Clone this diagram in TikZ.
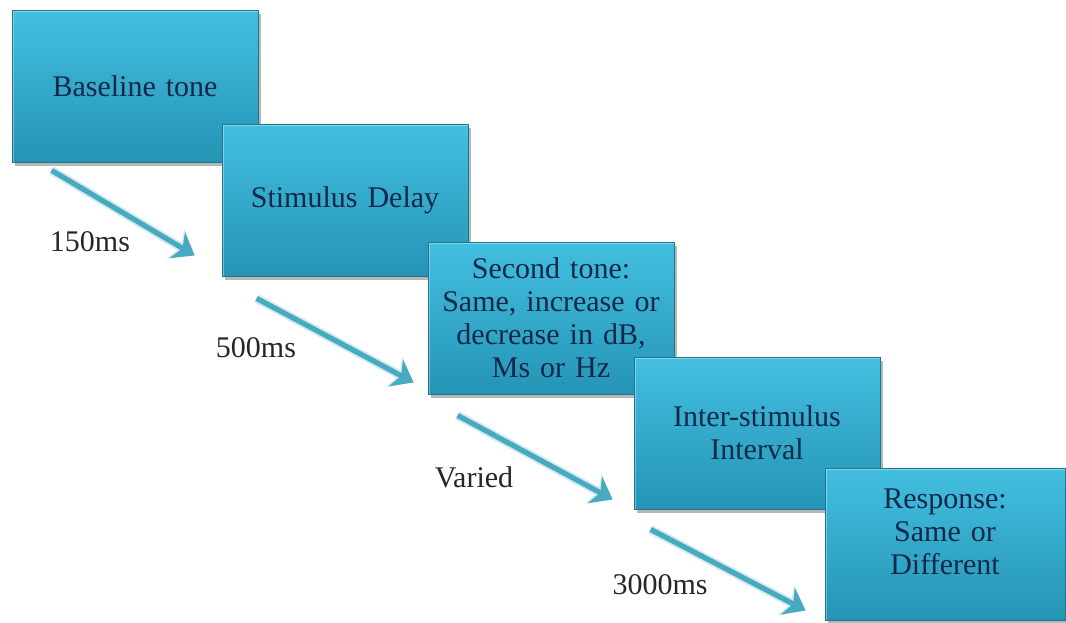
\documentclass[tikz,border=0pt]{standalone}
\usepackage{fontspec}
\setmainfont{Liberation Serif}
\usetikzlibrary{arrows.meta, shadows, positioning}
\definecolor{StepTop}{HTML}{43BFE0}
\definecolor{StepBot}{HTML}{2594B5}
\definecolor{StepInk}{HTML}{14284A}
\definecolor{FlowCyan}{HTML}{47AAC1}

\begin{document}
\begin{tikzpicture}[x=0.5pt, y=-0.5pt, >=Stealth,
        stepbox/.style={rectangle, top color=StepTop, bottom color=StepBot, draw=StepBot!80!black, line width=0.4pt,
            minimum width=123pt, minimum height=76pt, text width=116pt, align=center, inner sep=2pt,
            font=\fontsize{15}{16.5}\selectfont, text=StepInk,
            drop shadow={shadow xshift=1.5pt, shadow yshift=-2pt, opacity=0.4, fill=black!70},
            path picture={\draw[white, opacity=0.35, line width=2pt] (path picture bounding box.south west) |- (path picture bounding box.north east);}},
        flow/.style={-{Stealth[length=10pt, width=15pt, inset=3pt]}, line width=2.6pt, FlowCyan,
            preaction={draw=FlowCyan!25, line width=4.5pt, -{Stealth[length=11pt, width=17pt, inset=3pt]}}},
        lbl/.style={font=\fontsize{15}{16.5}\selectfont, text=black!85}
    ]
    \useasboundingbox (0,0) rectangle (1066,622);

    % Steps of one trial
    \node[stepbox] (base) at (135,86) {Baseline tone};
    \node[stepbox] (delay) at (345,200) {Stimulus Delay};
    \node[stepbox] (second) at (551,318) {Second tone:\\Same, increase or\\decrease in dB,\\Ms or Hz};
    \node[stepbox] (isi) at (757,433) {Inter-stimulus\\Interval};
    \node[stepbox, minimum width=118pt] (resp) at (945,544) {Response:\\Same or\\Different\\[-4pt]\mbox{}};

    % Timing labels
    \node[lbl] (t150) at (90,242) {150ms};
    \node[lbl] (t500) at (256,348) {500ms};
    \node[lbl] (tvar) at (474,477) {Varied};
    \node[lbl] (t3000) at (660,585) {3000ms};

    % Arrows between steps
    \draw[flow] ([shift={(40,8)}]base.south west) -- ([shift={(-27,-21)}]delay.south west);
    \draw[flow] ([shift={(35,22)}]delay.south west) -- ([shift={(-14,-12)}]second.south west);
    \draw[flow] ([shift={(30,21)}]second.south west) -- ([shift={(-21,-10)}]isi.south west);
    \draw[flow] ([shift={(17,20)}]isi.south west) -- ([shift={(-19,-10)}]resp.south west);

\end{tikzpicture}
\end{document}
